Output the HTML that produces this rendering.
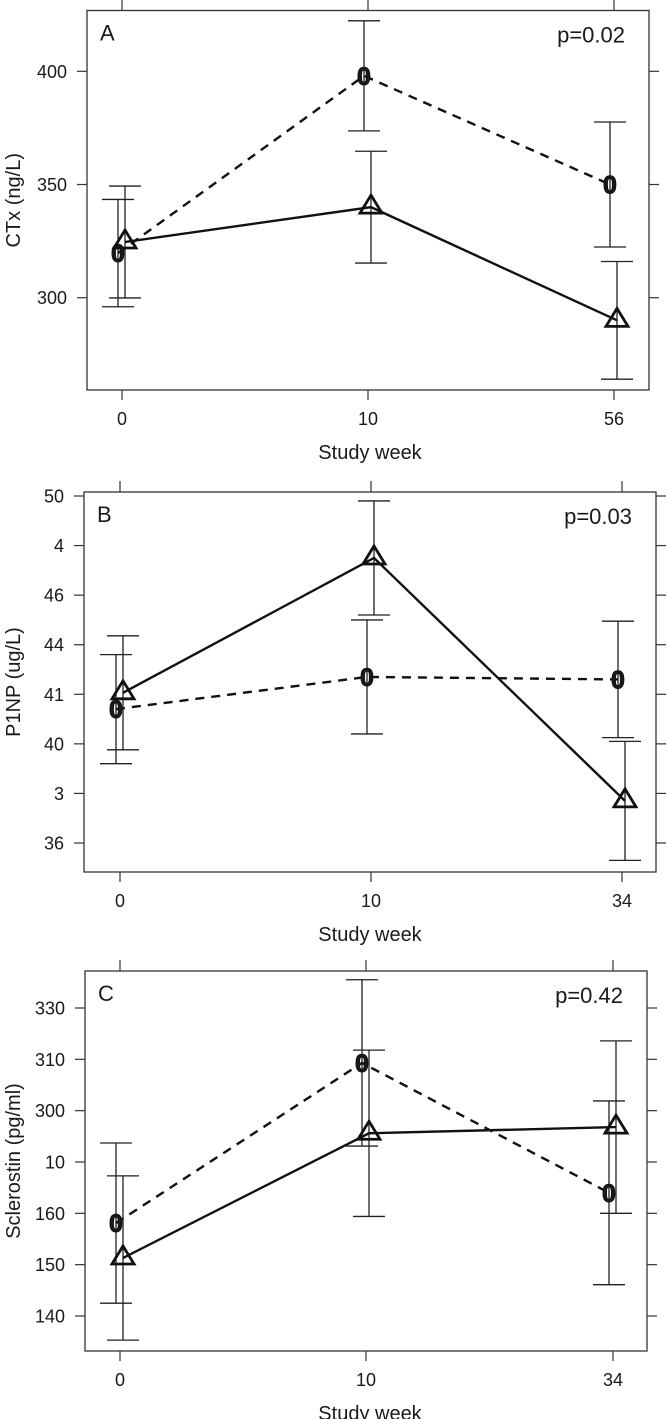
<!DOCTYPE html>
<html><head><meta charset="utf-8"><style>
body{margin:0;background:#fff}
svg{display:block}
text{font-family:"Liberation Sans",sans-serif;fill:#1a1a1a}
</style></head><body>
<svg id="chart" width="667" height="1419" viewBox="0 0 667 1419" xmlns="http://www.w3.org/2000/svg"></svg>
<script>
// Panel A data
const weeksA = ["0","10","56"];
const dashA = [319.7, 398, 350];
const dashErrA = [23.7, 24.3, 27.6];
const solidA = [324.6, 340, 290];
const solidErrA = [24.7, 24.7, 26];
const yTickValsA = [300, 350, 400];
const yTickLabA = ["300","350","400"];
// Panel B data
const weeksB = ["0","10","34"];
const dashB = [41.4, 42.7, 42.6];
const dashErrB = [2.2, 2.3, 2.35];
const solidB = [42.06, 47.5, 37.7];
const solidErrB = [2.3, 2.3, 2.4];
const yTickValsB = [50, 48, 46, 44, 42, 40, 38, 36];
const yTickLabB = ["50","4","46","44","41","40","3","36"];
// Panel C data (index scale)
const weeksC = ["0","10","34"];
const dashC = [1.81, 4.93, 2.40];
const dashErrC = [1.56, 1.62, 1.79];
const solidC = [1.13, 3.56, 3.68];
const solidErrC = [1.6, 1.62, 1.68];
const yTickValsC = [6, 5, 4, 3, 2, 1, 0];
const yTickLabC = ["330","310","300","10","160","150","140"];

const NS = "http://www.w3.org/2000/svg";
const svg = document.getElementById("chart");
function mk(tag, attrs, parent){
  const e = document.createElementNS(NS, tag);
  for (const k in attrs) e.setAttribute(k, attrs[k]);
  (parent||svg).appendChild(e);
  return e;
}

function panel(cfg){
  const g = mk("g", {});
  
  
  const {x0,x1,y0,y1,xPos,v0,p0,v1,p1} = cfg;
  const yS = v => p0 + (v - v0) * (p1 - p0) / (v1 - v0);
  const xS = i => xPos[i];
  const box = mk("rect", {x:x0, y:y0, width:x1-x0, height:y1-y0, fill:"none", stroke:"#333", "stroke-width":1.3}, g);
  
  
  cfg.yTicks.forEach((v,i)=>{
    const y = yS(v);
    mk("line",{x1:x0-10,x2:x0,y1:y,y2:y,stroke:"#333","stroke-width":1.2},g);
    mk("line",{x1:x1,x2:x1+10,y1:y,y2:y,stroke:"#333","stroke-width":1.2},g);
    const t = mk("text",{x:x0-20,y:y+6.5,"text-anchor":"end","font-size":18},g);
    t.textContent = cfg.yLabs[i];
    
    
  });
  cfg.weeks.forEach((w,i)=>{
    const x = xS(i);
    mk("line",{x1:x,x2:x,y1:y1,y2:y1+10,stroke:"#333","stroke-width":1.2},g);
    mk("line",{x1:x,x2:x,y1:y0-11,y2:y0,stroke:"#333","stroke-width":1.2},g);
    const t = mk("text",{x:x,y:y1+35,"text-anchor":"middle","font-size":18},g);
    t.textContent = w;
    
    
  });
  const xt = mk("text",{x:370,y:y1+69,"text-anchor":"middle","font-size":20},g);
  xt.textContent = "Study week";
  
  
  const yc = (y0+y1)/2;
  const yt = mk("text",{x:0,y:0,"text-anchor":"middle","font-size":20,transform:`translate(20,${yc}) rotate(-90)`},g);
  yt.textContent = cfg.yTitle;
  
  
  const lt = mk("text",{x:x0+13,y:y0+30,"font-size":22,"font-family":"Liberation Serif, serif"},g);
  lt.textContent = cfg.id;
  
  
  const pt = mk("text",{x:x1-24,y:y0+32,"text-anchor":"end","font-size":22},g);
  pt.textContent = cfg.p;
  
  
  const series = [
    {vals:cfg.dash, err:cfg.dashErr, off:-4, dash:"9,7", kind:"o", name:"dashed"},
    {vals:cfg.solid, err:cfg.solidErr, off:3, dash:null, kind:"tri", name:"solid"}
  ];
  series.forEach(s=>{
    s.vals.forEach((v,i)=>{
      const x = xS(i)+s.off, yt2 = yS(v+s.err[i]), yb = yS(v-s.err[i]);
      const eb = mk("path",{d:`M${x},${yt2}V${yb}M${x-16},${yt2}H${x+16}M${x-16},${yb}H${x+16}`,stroke:"#222","stroke-width":1.3,fill:"none"},g);
      
      
    });
    const pts = s.vals.map((v,i)=>`${xS(i)+s.off},${yS(v)}`).join(" ");
    const ln = mk("polyline",{points:pts,fill:"none",stroke:"#111","stroke-width":2.4},g);
    if (s.dash) ln.setAttribute("stroke-dasharray", s.dash);
    
    
    s.vals.forEach((v,i)=>{
      const x = xS(i)+s.off, y = yS(v);
      let m;
      if (s.kind==="tri"){
        m = mk("path",{d:`M${x},${y-12}L${x+11},${y+6}L${x-11},${y+6}Z`,fill:"none",stroke:"#111","stroke-width":2.8},g);
      } else {
        m = mk("text",{x:x,y:y+9,"text-anchor":"middle","font-size":25,"font-weight":"bold","font-family":"Liberation Sans, sans-serif",stroke:"#111","stroke-width":1},g);
        m.textContent = "0";
      }
      
      
    });
  });
}

panel({id:"A", x0:87, x1:649, y0:10.5, y1:390, xPos:[122,368,614],
  v0:400, p0:71.3, v1:300, p1:297.7, yTicks:yTickValsA, yLabs:yTickLabA,
  weeks:weeksA, dash:dashA, dashErr:dashErrA, solid:solidA, solidErr:solidErrA,
  yTitle:"CTx (ng/L)", p:"p=0.02"});
panel({id:"B", x0:84, x1:656, y0:492, y1:872, xPos:[120,371,622],
  v0:50, p0:496, v1:36, p1:843, yTicks:yTickValsB, yLabs:yTickLabB,
  weeks:weeksB, dash:dashB, dashErr:dashErrB, solid:solidB, solidErr:solidErrB,
  yTitle:"P1NP (ug/L)", p:"p=0.03"});
panel({id:"C", x0:85, x1:647, y0:971, y1:1351, xPos:[120,366,613],
  v0:6, p0:1008, v1:0, p1:1316, yTicks:yTickValsC, yLabs:yTickLabC,
  weeks:weeksC, dash:dashC, dashErr:dashErrC, solid:solidC, solidErr:solidErrC,
  yTitle:"Sclerostin (pg/ml)", p:"p=0.42"});
</script>
</body></html>
